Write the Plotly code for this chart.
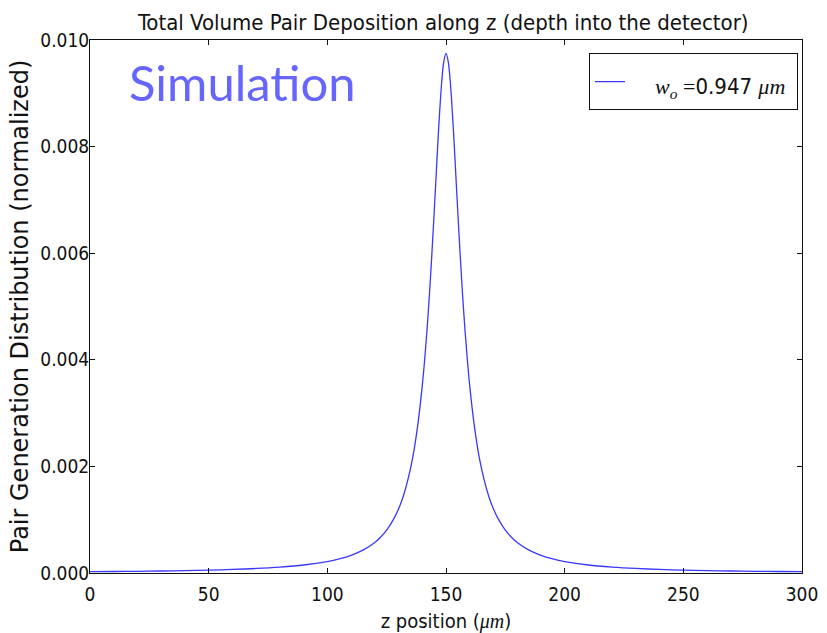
import plotly.graph_objects as go

# Values
z_um = [0, 10, 20, 30, 40, 50, 60, 70, 80, 90, 100, 105, 110, 115, 120, 122, 125, 128,
        130, 132, 134, 136, 138, 140, 141, 142, 143, 144, 145, 146, 147, 148, 149, 150,
        151, 152, 153, 154, 155, 156, 157, 158, 159, 160, 162, 164, 166, 168, 170, 172,
        175, 178, 180, 185, 190, 195, 200, 210, 220, 230, 240, 250, 260, 270, 280, 290, 300]
pair_dist = [0.0000243, 0.0000279, 0.0000323, 0.0000379, 0.0000451, 0.0000545, 0.0000672,
             0.0000849, 0.000111, 0.000150, 0.000215, 0.000264, 0.000331, 0.000428,
             0.000574, 0.000653, 0.000805, 0.001015, 0.00120, 0.00144, 0.00176, 0.00217,
             0.00274, 0.00351, 0.00400, 0.00456, 0.00521, 0.00595, 0.00675, 0.00759,
             0.00841, 0.00910, 0.00958, 0.00975,
             0.00958, 0.00910, 0.00841, 0.00759, 0.00675, 0.00595, 0.00521, 0.00456,
             0.00400, 0.00351, 0.00274, 0.00217, 0.00176, 0.00144, 0.00120, 0.001015,
             0.000805, 0.000653, 0.000574, 0.000428, 0.000331, 0.000264, 0.000215,
             0.000150, 0.000111, 0.0000849, 0.0000672, 0.0000545, 0.0000451, 0.0000379,
             0.0000323, 0.0000279, 0.0000243]
x_ticks = [0, 50, 100, 150, 200, 250, 300]
y_ticks = [0.000, 0.002, 0.004, 0.006, 0.008, 0.010]

NARROW = "Liberation Sans Narrow, DejaVu Sans Condensed, Arial Narrow, sans-serif"
SERIF_I = "font-family:'Liberation Serif', 'DejaVu Serif', serif;font-style:italic"

legend_name = (f"<span style=\"font-size:22px\">\u00a0\u00a0\u00a0\u00a0"
               f"<span style=\"{SERIF_I}\">w<sub>o</sub></span>"
               f"<span style=\"font-family:'Liberation Serif', serif\"> =</span>0.947 "
               f"<span style=\"{SERIF_I}\">\u03bcm</span>\u00a0</span>")

fig = go.Figure()
fig.add_trace(go.Scatter(
    x=z_um, y=pair_dist, mode="lines", name=legend_name,
    line=dict(color="#3838ff", width=1.3, shape="spline", smoothing=0.8),
    showlegend=True,
))

axis_common = dict(
    showgrid=False, zeroline=False, showline=True, linecolor="#111111", linewidth=1,
    mirror="ticks", ticks="inside", ticklen=5, tickcolor="#111111", tickwidth=1,
    tickfont=dict(family=NARROW, size=19, color="#111111"), automargin=False,
)

fig.update_layout(
    width=827, height=633,
    margin=dict(l=90, r=25, t=40, b=60, autoexpand=False),
    paper_bgcolor="white", plot_bgcolor="white",
    title=dict(
        text="Total Volume Pair Deposition along z (depth into the detector)",
        font=dict(family=NARROW, size=22, color="#111111"),
        x=0.536, xanchor="center", y=0.965, yanchor="middle",
    ),
    xaxis=dict(
        range=[0, 300], tickvals=x_ticks, ticktext=[str(v) for v in x_ticks],
        ticklabelstandoff=4,
        title=dict(text=f"z position (<span style=\"{SERIF_I}\">\u03bcm</span>)",
                   font=dict(family=NARROW, size=20, color="#111111"), standoff=16),
        **axis_common,
    ),
    yaxis=dict(
        range=[0, 0.010], tickvals=y_ticks, ticktext=[f"{v:.3f}" for v in y_ticks],
        ticklabelstandoff=-4,
        title=dict(text="Pair Generation Distribution (normalized)",
                   font=dict(family="DejaVu Sans", size=24, color="#111111"), standoff=4),
        **axis_common,
    ),
    legend=dict(
        x=0.7008, y=0.975, xanchor="left", yanchor="top",
        bgcolor="white", bordercolor="#111111", borderwidth=1,
        font=dict(family=NARROW, size=32, color="#111111"),
        itemwidth=30,
    ),
    showlegend=True,
    annotations=[dict(
        text="Simulation", xref="paper", yref="paper", x=0.052, y=0.922,
        xanchor="left", yanchor="middle", showarrow=False,
        font=dict(family="Lato, Calibri, sans-serif", size=49, color="#6666ff"),
    )],
)

fig.write_html("out.html")
